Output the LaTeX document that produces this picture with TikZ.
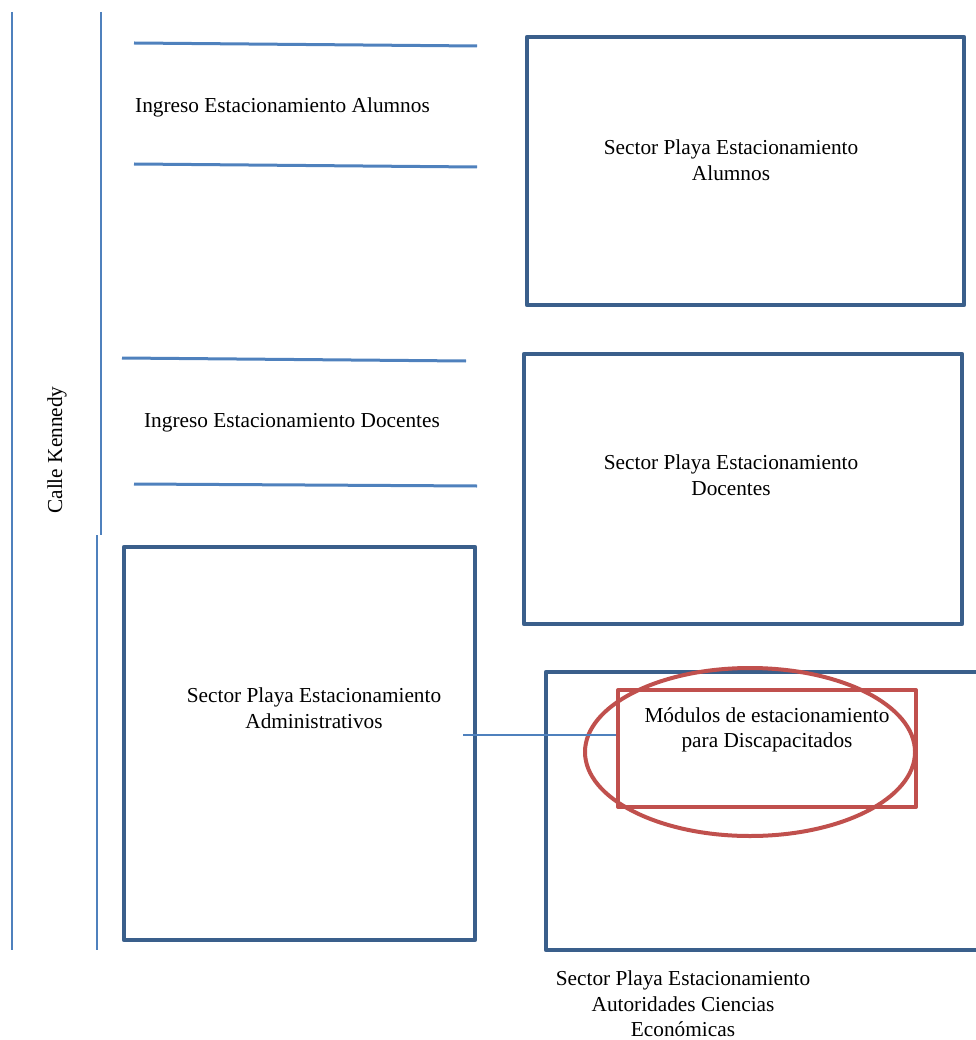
\documentclass[tikz,border=0pt]{standalone}
\usepackage{fontspec}
\setmainfont{Liberation Serif}
\definecolor{streetblue}{HTML}{4F81BD}
\definecolor{sectorblue}{HTML}{3A5F8B}
\definecolor{modred}{HTML}{C0504D}

\begin{document}
\begin{tikzpicture}[x=1pt, y=-1pt,
    street/.style={streetblue, line width=2pt},
    lane/.style={streetblue, line width=3pt},
    sector/.style={sectorblue, line width=4.5pt, line join=round},
    modulo/.style={modred, line width=4pt, line join=round},
    label/.style={font=\fontsize{21.3}{25.5}\selectfont, align=center, inner sep=0pt}]
    \useasboundingbox (0,0) rectangle (975,1040);
    % calle
    \draw[street] (12,12) -- (12,950);
    \draw[street] (101,12) -- (101,535);
    \draw[street] (97,535) -- (97,950);
    \node[label, rotate=90] (calle) at (57,450) {Calle Kennedy};
    % ingresos
    \draw[lane] (134,43) -- (477,46);
    \draw[lane] (134,164) -- (477,167);
    \node[label, anchor=west] (ingAlu) at (135,107) {Ingreso Estacionamiento Alumnos};
    \draw[lane] (122,358) -- (466,361);
    \draw[lane] (134,484) -- (477,486);
    \node[label] (ingDoc) at (292,423) {Ingreso Estacionamiento Docentes};
    % sectores
    \draw[sector] (527,37) rectangle (964,305);
    \node[label] (alumnos) at (731,160) {Sector Playa Estacionamiento\\Alumnos};
    \draw[sector] (524,354) rectangle (962,624);
    \node[label] (docentes) at (731,475) {Sector Playa Estacionamiento\\Docentes};
    \draw[sector] (124,547) rectangle (475,940);
    \node[label] (admin) at (314,708) {Sector Playa Estacionamiento\\Administrativos};
    \draw[sector] (985,672) -- (546,672) -- (546,950) -- (985,950);
    \node[label] (autoridades) at (683,1004) {Sector Playa Estacionamiento\\Autoridades Ciencias\\Económicas};
    % discapacitados
    \node[modulo, draw, minimum width=298pt, minimum height=117pt, inner sep=0pt] (modulos) at (767,748.5) {};
    \draw[modulo] (750,752) ellipse (165 and 84);
    \node[label] (modTxt) at (767,730) {Módulos de estacionamiento\\para Discapacitados};
    \coordinate (adminLink) at (463,735);
    \draw[streetblue, line width=1.5pt] (adminLink) -- (modulos.west |- adminLink);
\end{tikzpicture}
\end{document}
